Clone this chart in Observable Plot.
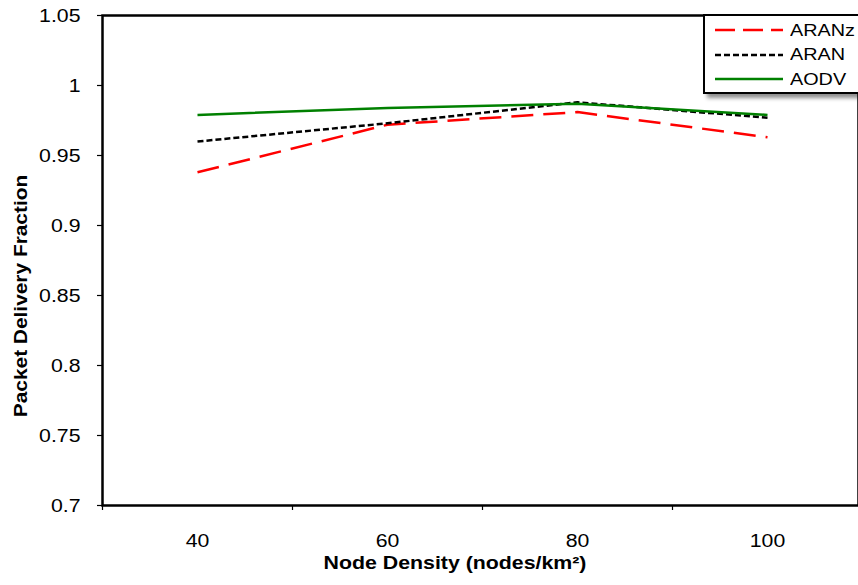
<!DOCTYPE html>
<html><head><meta charset="utf-8">
<script src="https://cdn.jsdelivr.net/npm/d3@7"></script>
<script src="https://cdn.jsdelivr.net/npm/@observablehq/plot@0.6"></script>
<style>
body{margin:0;background:#fff;font-family:"Liberation Sans",Arial,sans-serif;}
#wrap{position:relative;width:858px;height:585px;overflow:hidden;}
#legend{position:absolute;left:703px;top:14px;width:170px;height:76px;border:2px solid #000;background:#fff;box-shadow:4px 4px 4px rgba(0,0,0,0.45);}
.row{position:absolute;left:10px;height:20px;display:flex;align-items:center;font-size:16.5px;color:#000;white-space:nowrap;}
.row svg{margin-right:7px;flex:none;}
.row span{display:inline-block;transform:scaleX(1.2);transform-origin:left center;}
</style></head>
<body><div id="wrap"><div id="chart"></div><div id="legend"></div></div>
<script>
const densities = [40, 60, 80, 100];
const aranz = [0.938, 0.972, 0.981, 0.963];
const aran  = [0.960, 0.973, 0.988, 0.977];
const aodv  = [0.979, 0.984, 0.987, 0.979];
const seriesNames = ["ARANz", "ARAN", "AODV"];
const seriesColors = ["#ff0000", "#000000", "#008000"];
const seriesDash = ["22,10", "6,3", null];
const yTicks = [0.7, 0.75, 0.8, 0.85, 0.9, 0.95, 1, 1.05];
const xBoundaryTicks = [30, 50, 70, 90, 110];
const yTitle = "Packet Delivery Fraction";
const xTitle = "Node Density (nodes/km²)";

const values = [aranz, aran, aodv];
const rows = [];
values.forEach((vals, s) => vals.forEach((v, i) => rows.push({series: seriesNames[s], x: densities[i], y: v})));

const chart = Plot.plot({
  width: 858, height: 585,
  marginLeft: 102, marginTop: 15, marginBottom: 80, marginRight: 0,
  style: {fontFamily: "Liberation Sans, Arial, sans-serif", fontSize: "19px", color: "#000", background: "#fff"},
  x: {domain: [30, 110], range: [102, 862], axis: null},
  y: {domain: [0.7, 1.05], axis: null},
  marks: [
    Plot.axisY(yTicks, {tickSize: 5, tickPadding: 17, tickFormat: d => String(d), fontSize: 19, label: null, strokeWidth: 1.2}),
    Plot.axisX(xBoundaryTicks, {tickSize: 5, tickFormat: () => "", label: null, strokeWidth: 1.2}),
    Plot.axisX(densities, {tickSize: 0, tickPadding: 28, fontSize: 19, label: null}),
    ...seriesNames.map((name, s) => Plot.line(rows.filter(r => r.series === name), {
      x: "x", y: "y", stroke: seriesColors[s], strokeWidth: 2.5,
      strokeDasharray: seriesDash[s] || undefined, strokeLinecap: "butt"
    })),
    Plot.frame({stroke: "#000", strokeWidth: 2.5})
  ]
});
document.getElementById("chart").appendChild(chart);

const svg = d3.select(chart);
// horizontal stretch of tick labels, as in the reference
const tickTexts = yTicks.map(String).concat(densities.map(String));
svg.selectAll("text").each(function() {
  if (tickTexts.includes(this.textContent)) {
    const el = d3.select(this);
    el.attr("transform", (el.attr("transform") || "") + " scale(1.12,1)");
  }
});
// axis titles
svg.append("text").text(xTitle)
  .attr("transform", "translate(455,569) scale(1.185,1)")
  .attr("text-anchor", "middle").attr("font-weight", "bold").attr("font-size", 18).attr("fill", "#000");
svg.append("text").text(yTitle)
  .attr("transform", "translate(27,296) rotate(-90) scale(1.16,1)")
  .attr("text-anchor", "middle").attr("font-weight", "bold").attr("font-size", 18).attr("fill", "#000");

const legend = document.getElementById("legend");
seriesNames.forEach((name, s) => {
  const row = document.createElement("div");
  row.className = "row";
  row.style.top = (4 + s * 24.7) + "px";
  const dash = seriesDash[s] ? `stroke-dasharray="${s === 0 ? '20,8' : seriesDash[s]}"` : "";
  row.innerHTML = `<svg width="68" height="10"><line x1="0" y1="5" x2="68" y2="5" stroke="${seriesColors[s]}" stroke-width="2.5" ${dash}/></svg><span>${name}</span>`;
  legend.appendChild(row);
});
</script></body></html>
